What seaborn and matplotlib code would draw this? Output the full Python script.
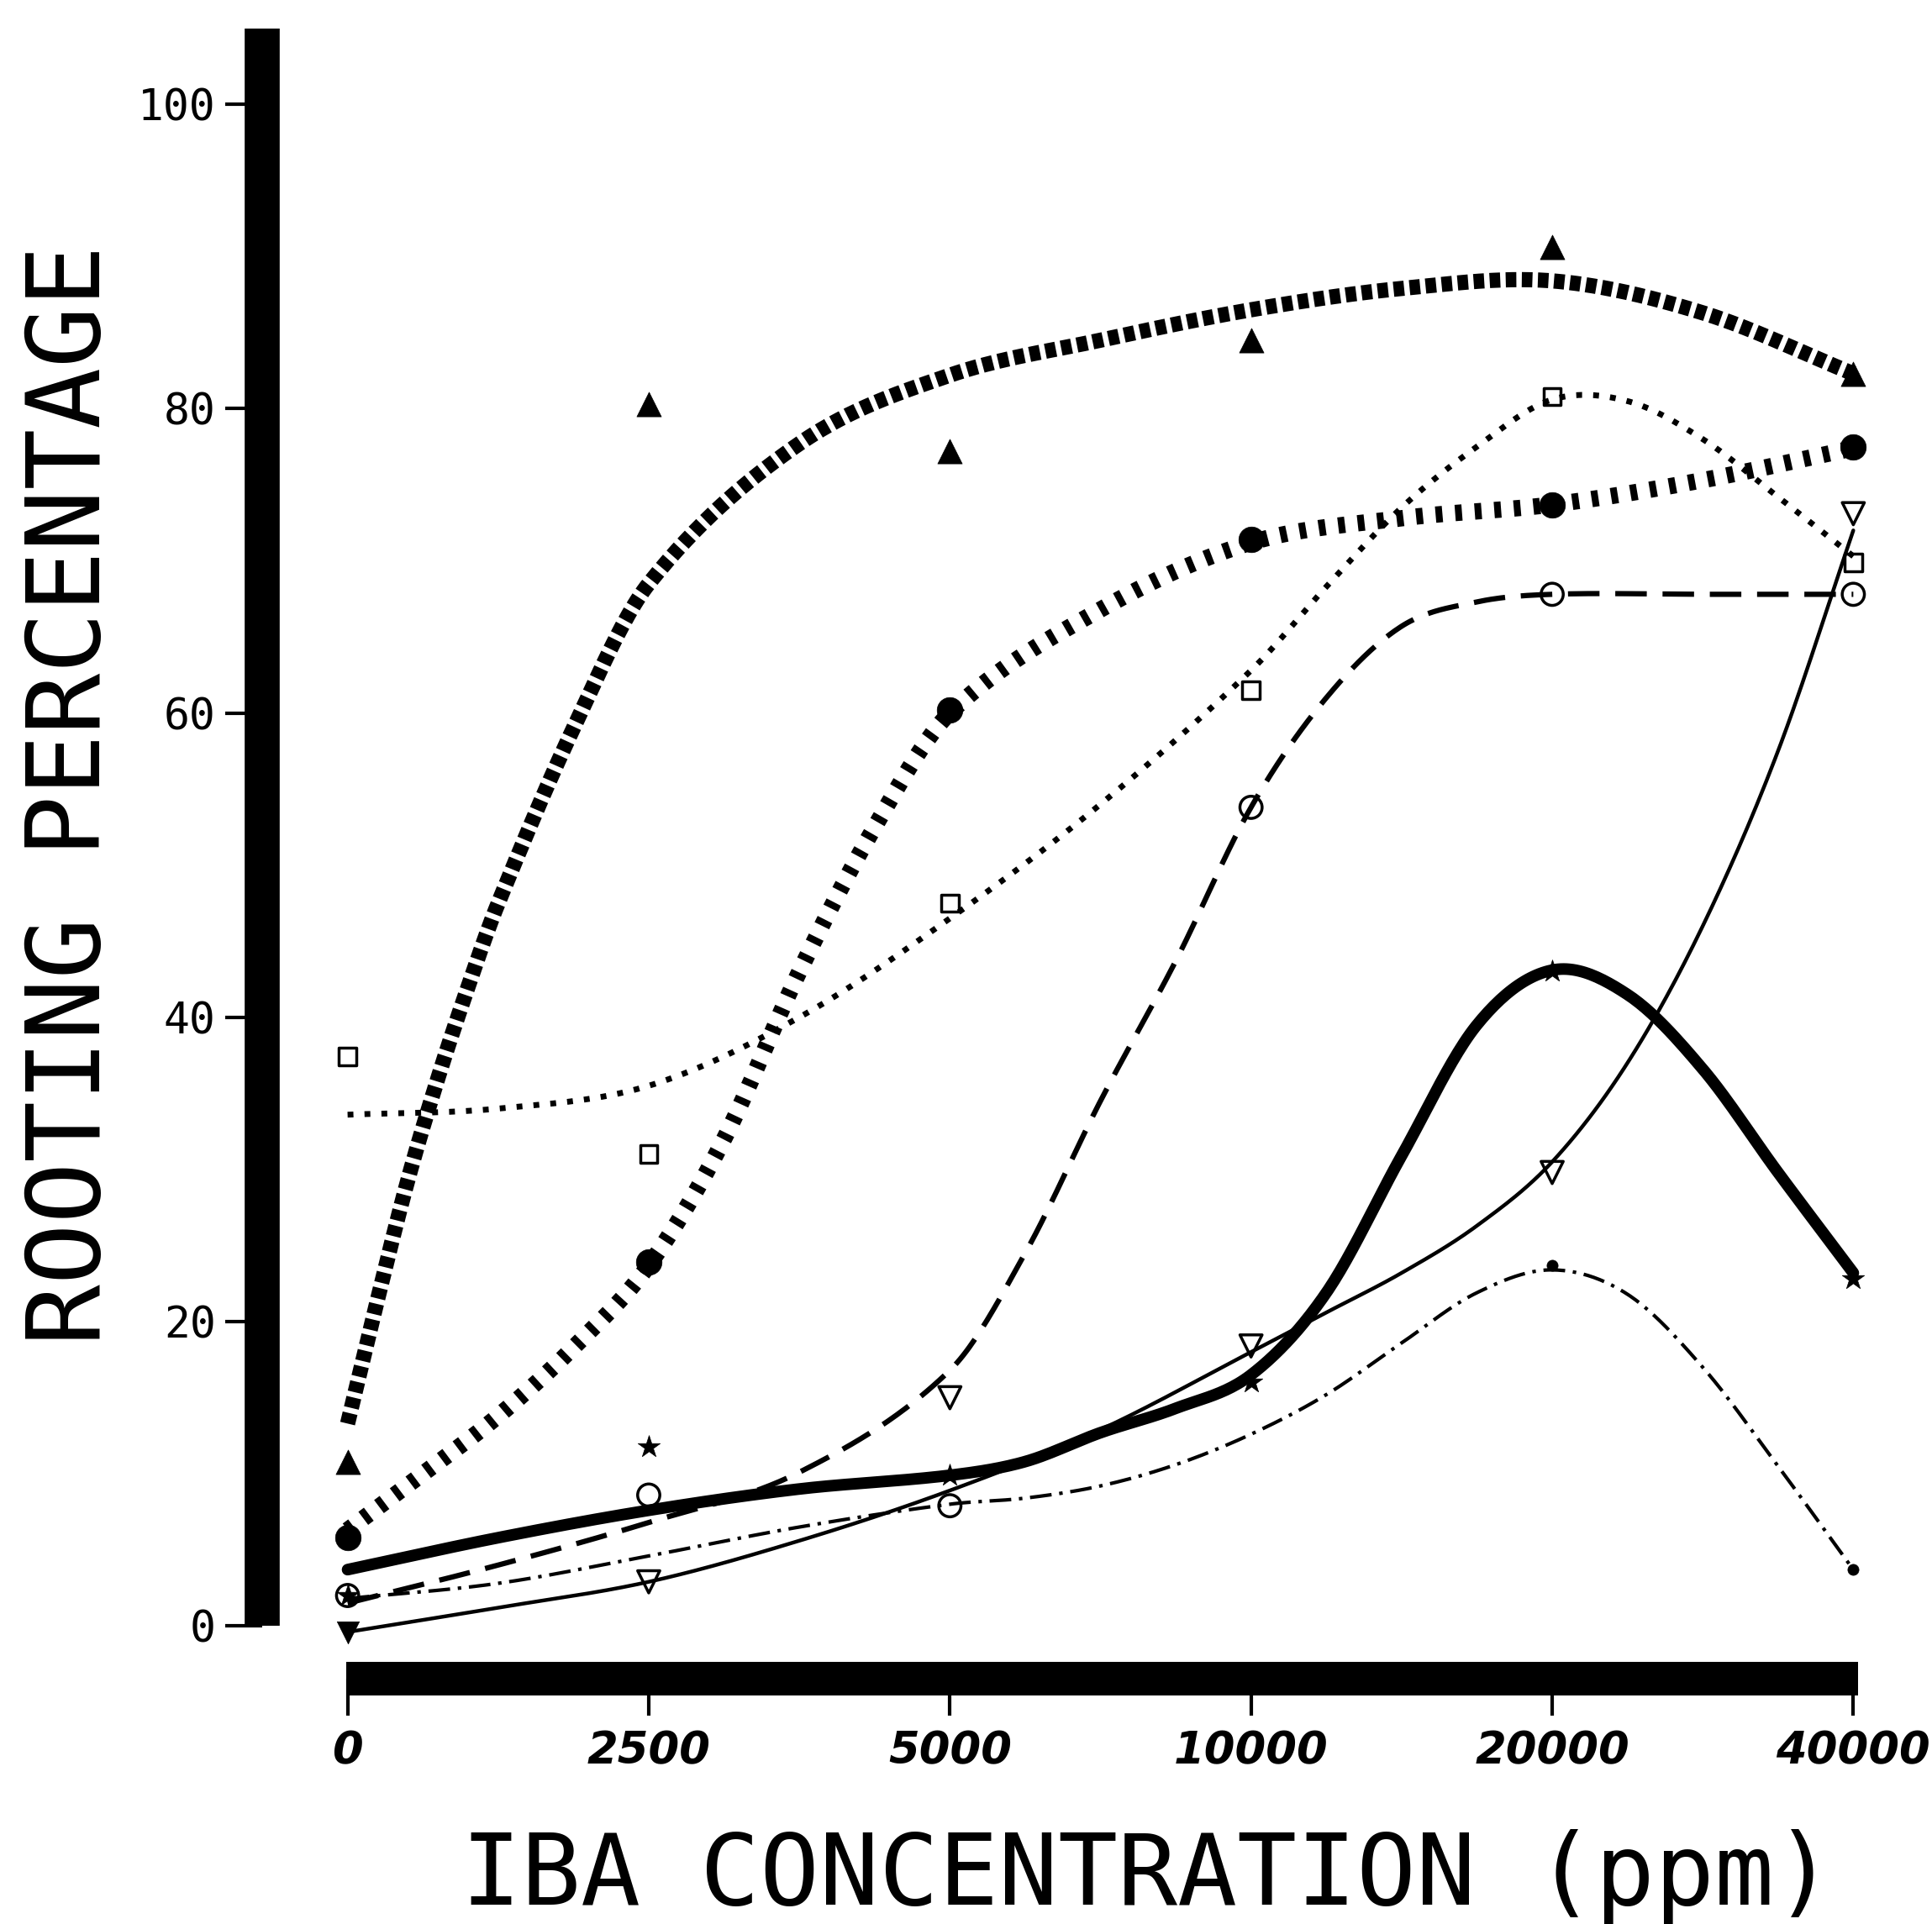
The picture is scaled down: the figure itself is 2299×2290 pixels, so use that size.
import numpy as np
import matplotlib
matplotlib.use("Agg")
import matplotlib.pyplot as plt
import seaborn as sns

sns.set_style("white")
plt.rcParams['font.family'] = ['DejaVu Sans Mono', 'DejaVu Sans']
plt.rcParams['text.color'] = 'black'
plt.rcParams['xtick.color'] = 'black'
plt.rcParams['ytick.color'] = 'black'
plt.rcParams['axes.labelcolor'] = 'black'

# ---------------- data ----------------
x_labels = ['0', '2500', '5000', '10000', '20000', '40000']
x_pos = [0, 1, 2, 3, 4, 5]
y_ticks = [0, 20, 40, 60, 80, 100]

# observed points (markers)
tri_filled_pts = [10.8, 80.3, 77.2, 84.5, 90.6, 82.3]
circ_filled_pts = [5.8, 23.9, 60.2, 71.4, 73.7, 77.5]
square_open_pts = [37.4, 31.0, 47.5, 61.5, 80.8, 69.9]
circ_open_pts = [2.0, 8.6, 7.9, 53.8, 67.8, 67.8]
dot_small_pts = [np.nan, np.nan, np.nan, np.nan, 23.7, 3.7]
tri_open_pts = [-0.45, 2.9, 15.0, 18.4, 29.8, 73.1]
star_pts = [2.0, 11.8, 9.9, 16.0, 43.0, 22.8]

# fitted curves (x in category units)
tri_curve_x = [0, 0.1, 0.2, 0.3, 0.4, 0.5, 0.75, 1, 1.5, 2, 2.5, 3, 3.5, 4, 4.5, 5]
tri_curve_y = [13.3, 21.5, 29.3, 36.0, 42.0, 47.5, 59.0, 68.5, 77.7, 82.2, 84.5, 86.5, 87.9, 88.4, 86.3, 82.3]

circ_curve_x = [0, 0.25, 0.5, 0.75, 1, 1.25, 1.5, 1.75, 2, 2.5, 3, 3.5, 4, 4.5, 5]
circ_curve_y = [6.3, 10.0, 13.8, 18.3, 23.7, 32.0, 43.0, 52.5, 60.0, 66.8, 71.2, 72.8, 73.7, 75.3, 77.4]

square_curve_x = [0, 0.5, 1, 1.5, 2, 2.5, 3, 3.25, 3.5, 3.75, 4, 4.25, 4.5, 4.75, 5]
square_curve_y = [33.6, 34.0, 35.5, 40.0, 46.5, 54.0, 62.8, 68.3, 73.5, 77.5, 80.6, 80.5, 78.0, 74.2, 70.3]

dash_curve_x = [0, 0.5, 1, 1.5, 2, 2.25, 2.5, 2.75, 3, 3.25, 3.5, 3.75, 4, 4.5, 5]
dash_curve_y = [1.5, 4.0, 6.8, 10.1, 16.8, 24.5, 34.5, 43.7, 53.8, 61.0, 65.7, 67.3, 67.8, 67.8, 67.8]

dashdot_curve_x = [0, 0.5, 1, 1.5, 2, 2.25, 2.5, 2.75, 3, 3.25, 3.5, 3.75, 4, 4.25, 4.5, 4.75, 5]
dashdot_curve_y = [1.8, 2.8, 4.6, 6.5, 8.0, 8.4, 9.2, 10.6, 12.6, 15.2, 18.6, 21.9, 23.4, 21.8, 17.0, 10.5, 3.7]

thin_curve_x = [0, 0.5, 1, 1.5, 2, 2.5, 3, 3.25, 3.5, 3.75, 4, 4.25, 4.5, 4.75, 5]
thin_curve_y = [-0.4, 1.2, 2.9, 5.6, 8.9, 12.9, 18.0, 20.6, 23.2, 26.3, 30.5, 37.0, 46.0, 57.5, 72.0]

star_curve_x = [0, 0.5, 1, 1.5, 2, 2.25, 2.5, 2.75, 3, 3.25, 3.5, 3.75, 4, 4.25, 4.5, 4.75, 5]
star_curve_y = [3.7, 5.8, 7.6, 9.0, 9.9, 10.8, 12.7, 14.3, 16.5, 21.9, 30.9, 39.5, 43.1, 41.5, 36.6, 29.8, 23.2]


# ---------------- rendering helper (smooth path through read values) ----------------
def smooth_path(xk, yk, n=500):
    x = np.asarray(xk, float)
    y = np.asarray(yk, float)
    h = np.diff(x)
    m = np.zeros_like(y)
    m[1:-1] = (y[2:] - y[:-2]) / (x[2:] - x[:-2])
    m[0] = (y[1] - y[0]) / h[0]
    m[-1] = (y[-1] - y[-2]) / h[-1]
    xs = np.linspace(x[0], x[-1], n)
    idx = np.clip(np.searchsorted(x, xs) - 1, 0, len(x) - 2)
    t = (xs - x[idx]) / h[idx]
    h00 = 2 * t**3 - 3 * t**2 + 1
    h10 = t**3 - 2 * t**2 + t
    h01 = -2 * t**3 + 3 * t**2
    h11 = t**3 - t**2
    ys = h00 * y[idx] + h10 * h[idx] * m[idx] + h01 * y[idx + 1] + h11 * h[idx] * m[idx + 1]
    return xs, ys


fig = plt.figure(figsize=(22.99, 22.90), dpi=100)
ax = fig.add_axes([0.1358, 0.1274, 0.9853 - 0.1358, 0.9853 - 0.1274])
ax.set_xlim(-0.283, 5.167)
ax.set_ylim(-3.48, 105.0)


def draw_curve(xk, yk, lw, ls):
    xs, ys = smooth_path(xk, yk)
    sns.lineplot(x=xs, y=ys, ax=ax, color='black', linewidth=lw,
                 sort=False, estimator=None, zorder=3)
    line = ax.lines[-1]
    line.set_linestyle(ls)
    line.set_clip_on(False)


draw_curve(tri_curve_x, tri_curve_y, 13, (0, (0.7, 0.36)))
draw_curve(circ_curve_x, circ_curve_y, 14, (0, (0.42, 0.78)))
draw_curve(square_curve_x, square_curve_y, 5.0, (0, (1.0, 1.9)))
draw_curve(dash_curve_x, dash_curve_y, 4.5, (0, (6.0, 3.0)))
draw_curve(dashdot_curve_x, dashdot_curve_y, 3.0, (0, (6.2, 2.2, 1.0, 2.2)))
draw_curve(thin_curve_x, thin_curve_y, 3.2, '-')
draw_curve(star_curve_x, star_curve_y, 10.0, '-')


def draw_points(xv, yv, marker, ms, filled=True, ew=2.5):
    if filled:
        sns.scatterplot(x=xv, y=yv, ax=ax, marker=marker, s=ms**2, color='black',
                        edgecolor='black', linewidth=0.5, zorder=5, clip_on=False)
    else:
        sns.scatterplot(x=xv, y=yv, ax=ax, marker=marker, s=ms**2, color='black',
                        facecolor='none', edgecolor='black', linewidth=ew,
                        zorder=5, clip_on=False)


draw_points(x_pos, tri_filled_pts, '^', 21)
draw_points(x_pos, circ_filled_pts, 'o', 22)
draw_points(x_pos, square_open_pts, 's', 15, filled=False)
draw_points(x_pos, circ_open_pts, 'o', 19, filled=False)
draw_points(x_pos, dot_small_pts, 'o', 9.5)
draw_points(x_pos[:1], tri_open_pts[:1], 'v', 19)
draw_points(x_pos[1:], tri_open_pts[1:], 'v', 19, filled=False)
draw_points(x_pos, star_pts, '*', 20)

# ---------------- axes styling ----------------
for s in ['top', 'right']:
    ax.spines[s].set_visible(False)
ax.spines['left'].set_linewidth(30)
ax.spines['left'].set_bounds(0, 105.0)
ax.spines['left'].set_capstyle('butt')
ax.spines['bottom'].set_linewidth(28.8)
ax.spines['bottom'].set_bounds(-0.005, 5.016)
ax.spines['bottom'].set_capstyle('butt')
for s in ['left', 'bottom']:
    ax.spines[s].set_color('black')

ax.set_xticks(x_pos)
ax.set_xticklabels(x_labels, fontsize=38, fontweight='bold', fontstyle='italic',
                   family='DejaVu Sans', color='black')
ax.set_yticks(y_ticks)
ax.set_yticklabels([str(v) for v in y_ticks], fontsize=37, family='DejaVu Sans Mono',
                   color='black')
ax.tick_params(axis='x', direction='out', length=32, width=3, pad=11, color='black',
               bottom=True)
ax.tick_params(axis='y', direction='out', length=32, width=3, pad=8, color='black',
               left=True)
ax.set_xlabel('')
ax.set_ylabel('')
ax.grid(False)

fig.text(0.0371, 0.5868, 'ROOTING PERCENTAGE', rotation=90, ha='center', va='center',
         fontsize=87, family='DejaVu Sans Mono', color='black')
fig.text(0.594, 0.0102, 'IBA CONCENTRATION (ppm)', ha='center', va='baseline',
         fontsize=85, family='DejaVu Sans Mono', color='black')

fig.savefig('out.png', dpi=100, facecolor='white')
